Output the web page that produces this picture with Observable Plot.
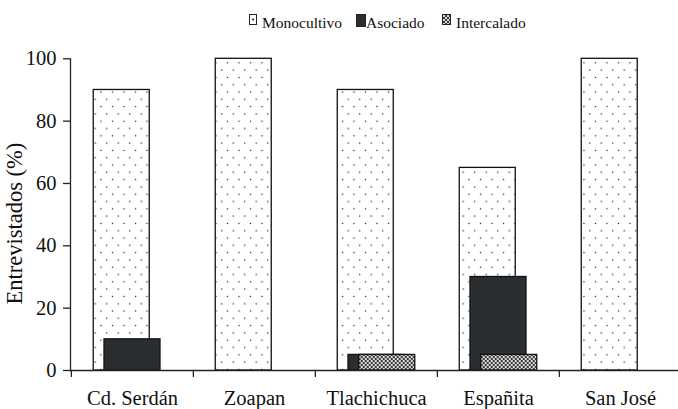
<!DOCTYPE html>
<html><head><meta charset="utf-8">
<script src="https://cdn.jsdelivr.net/npm/d3@7"></script>
<script src="https://cdn.jsdelivr.net/npm/@observablehq/plot@0.6"></script>
<style>
body{margin:0;background:#fff;font-family:"Liberation Serif","Times New Roman",serif;color:#111;}
#wrap{position:relative;width:678px;height:409px;overflow:hidden;}
#legend{position:relative;height:38px;font-size:15.5px;}
#legend .sw{position:absolute;box-sizing:border-box;border:1px solid #222;}
#legend .tx{position:absolute;line-height:1;white-space:nowrap;}
#chart svg{display:block;}
</style></head><body>
<div id="wrap"><div id="legend"></div><div id="chart"></div></div>
<script>
const categories = ["Cd. Serdán", "Zoapan", "Tlachichuca", "Españita", "San José"];
const monocultivo = [90, 100, 90, 65, 100];
const asociado = [10, 0, 5, 30, 0];
const intercalado = [0, 0, 5, 5, 0];
const seriesNames = ["Monocultivo", "Asociado", "Intercalado"];
const yTicks = [0, 20, 40, 60, 80, 100];
const yLabel = "Entrevistados (%)";

const seriesValues = [monocultivo, asociado, intercalado];
const rows = [];
seriesNames.forEach((s, si) => categories.forEach((c, ci) => {
  rows.push({cat: c, series: s, value: seriesValues[si][ci]});
}));
const bySeries = s => rows.filter(d => d.series === s && d.value > 0);

const legendLayout = [
  {sw: [249, 14, 8, 11], tx: 262, bg: "#fff radial-gradient(circle at 50% 50%, #222 0 0.9px, transparent 1.2px)"},
  {sw: [356, 14, 10, 13], tx: 366, bg: "#2b2e30"},
  {sw: [442, 14, 9, 11], tx: 456, bg: "repeating-conic-gradient(#3a3a3a 0 25%, #d8d8d8 0 50%) 0 0/4px 4px"}
];
const legend = document.getElementById("legend");
seriesNames.forEach((s, i) => {
  const L = legendLayout[i];
  const sw = document.createElement("div");
  sw.className = "sw";
  Object.assign(sw.style, {left: L.sw[0] + "px", top: L.sw[1] + "px", width: L.sw[2] + "px", height: L.sw[3] + "px", background: L.bg});
  const tx = document.createElement("div");
  tx.className = "tx";
  tx.textContent = s;
  Object.assign(tx.style, {left: L.tx + "px", top: "15px"});
  legend.append(sw, tx);
});

const x0 = 70, x1 = 681.25;
const step = (x1 - x0) / categories.length;
const barW = 56;
const pad = 1 - barW / step;
const off = 10.75;
const FF = "Liberation Serif";
const labelSize = 22.5;

const svg = Plot.plot({
  width: 678,
  height: 371,
  marginLeft: 70,
  marginRight: 0,
  marginTop: 20.3,
  marginBottom: 39,
  style: {fontFamily: FF, fontSize: "20.5px", color: "#111", background: "#fff"},
  x: {type: "band", domain: categories, range: [x0, x1], paddingInner: pad, paddingOuter: pad / 2, align: 0.5},
  y: {domain: [0, 100]},
  marks: [
    Plot.barY(bySeries("Monocultivo"), {x: "cat", y: "value", fill: "url(#dots)", stroke: "#111", strokeWidth: 1.3, dx: -off}),
    Plot.barY(bySeries("Asociado"), {x: "cat", y: "value", fill: "#2b2e30", stroke: "#111", strokeWidth: 1.3, dx: 0}),
    Plot.barY(bySeries("Intercalado"), {x: "cat", y: "value", fill: "url(#checks)", stroke: "#111", strokeWidth: 1.3, dx: off}),
    Plot.frame({anchor: "left", stroke: "#222", strokeWidth: 1.3}),
    Plot.ruleY([0], {stroke: "#222", strokeWidth: 1.3}),
    Plot.axisY({ticks: yTicks, tickSize: 7, tickPadding: 7, fontSize: 20.5, label: null, stroke: "#222", strokeWidth: 1.3, fill: "#111"}),
    Plot.axisX({tickSize: 7, tickFormat: () => "", label: null, dx: -step / 2, stroke: "#222", strokeWidth: 1.3}),
    Plot.axisX({tickSize: 0, tickPadding: 20, fontSize: 20.5, label: null, fill: "#111"}),
    Plot.text([yLabel], {frameAnchor: "left", textAnchor: "middle", rotate: -90, dx: -55.5, dy: 9, fontSize: labelSize, fill: "#111"})
  ]
});
d3.select(svg).attr("font-family", FF).attr("font-size", 20.5);
d3.select(svg).selectAll("text").each(function() {
  const t = d3.select(this);
  t.attr("font-family", FF)
   .attr("font-size", this.textContent === yLabel ? labelSize : 20.5);
});
d3.select(svg).insert("defs", ":first-child").html(`
  <pattern id="dots" width="11.5" height="14.6" patternUnits="userSpaceOnUse">
    <rect width="11.5" height="14.6" fill="#fff"/>
    <circle cx="2.5" cy="3" r="0.75" fill="#222"/>
    <circle cx="8.25" cy="10.3" r="0.75" fill="#222"/>
  </pattern>
  <pattern id="checks" width="4" height="4" patternUnits="userSpaceOnUse">
    <rect width="4" height="4" fill="#d8d8d8"/>
    <rect width="2" height="2" fill="#3a3a3a"/>
    <rect x="2" y="2" width="2" height="2" fill="#3a3a3a"/>
  </pattern>`);
document.getElementById("chart").append(svg);
</script>
</body></html>
